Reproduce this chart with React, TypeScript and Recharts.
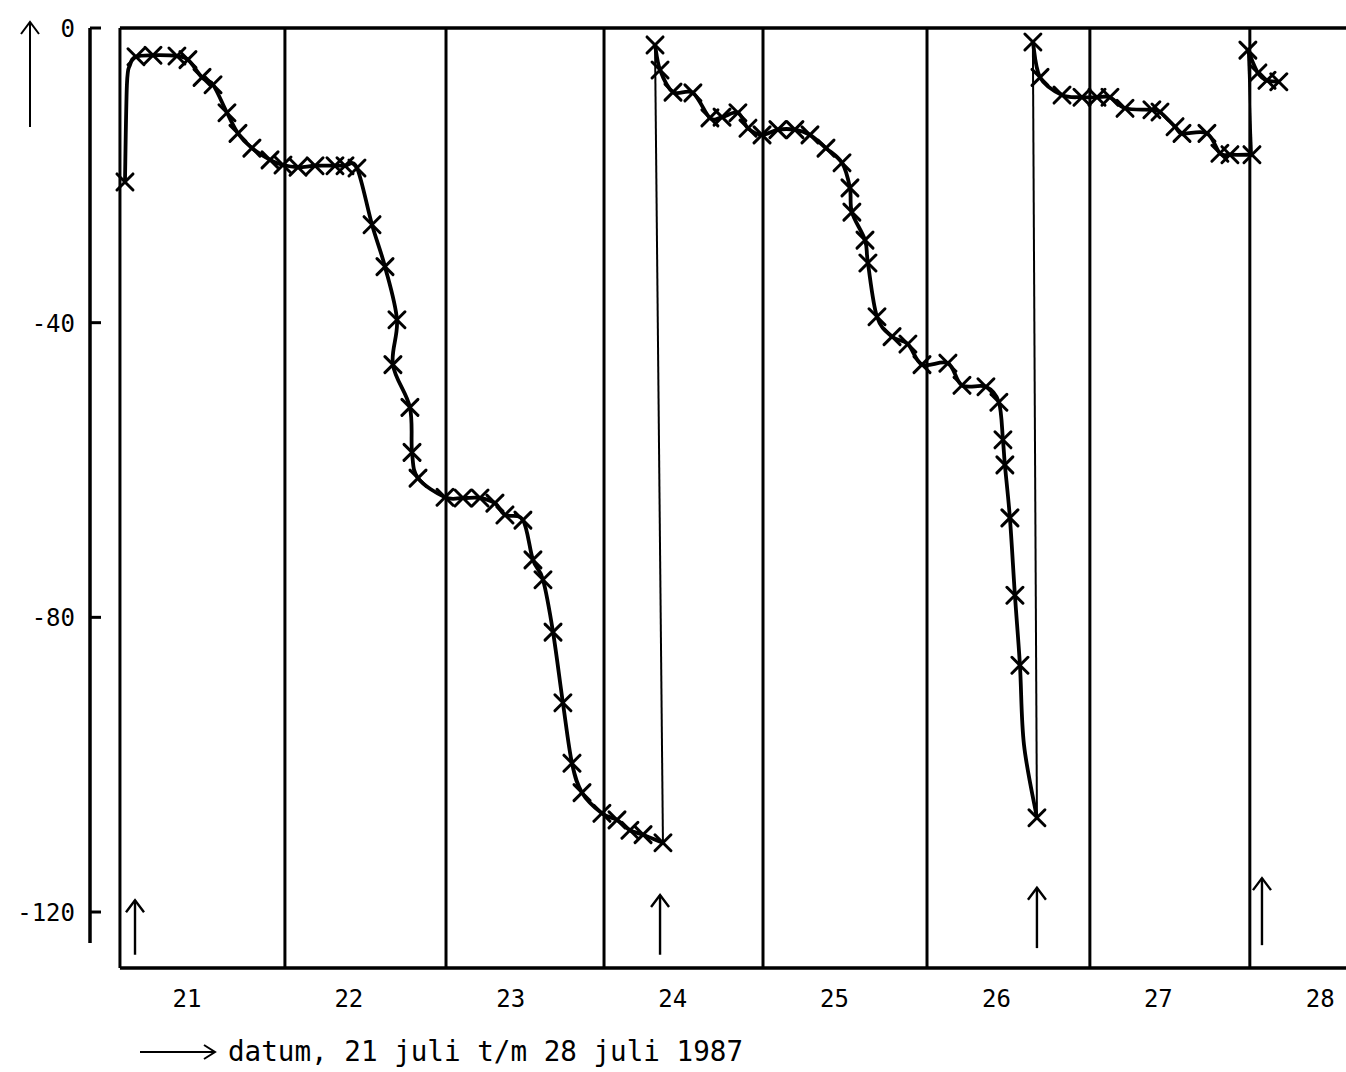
import React from "react";
import {
  ComposedChart,
  Line,
  XAxis,
  YAxis,
  ReferenceLine,
  Scatter,
  Label,
} from "recharts";

// Measured level per run, [day, value] (a trailing 1 = curve point without a cross)
const run1: number[][] = [
  [20.617, -20.9], [20.629, -7.7, 1], [20.648, -5.0, 1], [20.685, -3.9], [20.79, -3.7],
  [20.938, -3.8], [21.006, -4.3], [21.093, -6.7], [21.161, -7.7], [21.247, -11.5],
  [21.315, -14.3], [21.401, -16.3], [21.513, -17.9], [21.593, -18.6], [21.686, -18.9],
  [21.791, -18.7], [21.914, -18.7], [21.976, -18.7], [22.05, -19.0], [22.143, -26.7],
  [22.223, -32.4], [22.297, -39.6], [22.272, -45.7], [22.377, -51.5], [22.39, -57.6],
  [22.427, -61.1], [22.594, -63.7], [22.705, -63.8], [22.81, -63.8], [22.902, -64.5],
  [22.964, -66.1], [23.075, -66.8], [23.137, -72.2], [23.199, -74.9], [23.261, -82.0],
  [23.322, -91.6], [23.378, -99.8], [23.44, -103.8], [23.563, -106.6], [23.656, -107.5],
  [23.736, -108.9], [23.817, -109.5], [23.94, -110.6],
];
const run2: number[][] = [
  [23.891, -2.3], [23.922, -5.7], [24.002, -8.7], [24.125, -8.8], [24.23, -12.2],
  [24.305, -12.1], [24.403, -11.5], [24.465, -13.6], [24.552, -14.5], [24.65, -13.8],
  [24.755, -13.8], [24.848, -14.5], [24.947, -16.3], [25.046, -18.3], [25.095, -21.7],
  [25.107, -25.0], [25.188, -28.8], [25.206, -31.9], [25.262, -39.2], [25.355, -41.9],
  [25.453, -42.9], [25.54, -45.7], [25.7, -45.5], [25.787, -48.5], [25.935, -48.7],
  [26.015, -50.8], [26.04, -55.9], [26.052, -59.3], [26.083, -66.5], [26.114, -77.0],
  [26.145, -86.5], [26.17, -97.3, 1], [26.25, -107.2],
];
const run3: number[][] = [
  [26.225, -1.9], [26.269, -6.7], [26.405, -9.1], [26.528, -9.4], [26.621, -9.4],
  [26.701, -9.4], [26.794, -10.9], [26.96, -11.1], [27.01, -11.4], [27.103, -13.4],
  [27.146, -14.3], [27.3, -14.3], [27.38, -17.0], [27.442, -17.2], [27.578, -17.2],
];
const run4: number[][] = [
  [27.553, -3.0], [27.615, -6.1], [27.671, -7.1], [27.744, -7.3],
];

// Day boundaries drawn as vertical rules
const dayRules = [20.586, 21.605, 22.6, 23.576, 24.558, 25.571, 26.577, 27.565];

// Refill moments (arrows at the bottom): day, arrow tip, arrow foot
const refillDays = [20.679, 23.922, 26.25, 27.64];
const refillTips = [-118.4, -117.7, -116.7, -115.4];
const refillFeet = [-125.8, -125.8, -124.9, -124.5];

const dayTicks = [21, 22, 23, 24, 25, 26, 27, 28];
const dayLabels = ["21", "22", "23", "24", "25", "26", "27", "28"];
const valueTicks = [0, -40, -80, -120];
const valueLabels = ["0", "-40", "-80", "-120"];
const captionText = "datum, 21 juli t/m 28 juli 1987";

const X_MIN = 20.401;
const X_MAX = 28.159;
const Y_MIN = -127.6;
const Y_MAX = 0;
const AXIS_FOOT = -124.2;

const FONT = "'DejaVu Sans Mono', 'Liberation Mono', monospace";
const INK = "#000";

const toPts = (rows: number[][]) =>
  rows.map(([x, y, bare]) => ({ x, y, bare: bare === 1 }));

const runs = [run1, run2, run3, run4].map(toPts);
const refills = refillDays.map((x, i) => ({ x, y: refillTips[i], foot: refillFeet[i] }));

// Smooth pen-plotter style curve through every point (uniform Catmull-Rom)
const penCurve = (context: any) => {
  let pts: [number, number][] = [];
  return {
    areaStart() {},
    areaEnd() {},
    lineStart() {
      pts = [];
    },
    lineEnd() {
      if (!pts.length) return;
      context.moveTo(pts[0][0], pts[0][1]);
      const k = 1 / 6;
      for (let i = 0; i < pts.length - 1; i++) {
        const p0 = pts[Math.max(0, i - 1)];
        const p1 = pts[i];
        const p2 = pts[i + 1];
        const p3 = pts[Math.min(pts.length - 1, i + 2)];
        context.bezierCurveTo(
          p1[0] + (p2[0] - p0[0]) * k,
          p1[1] + (p2[1] - p0[1]) * k,
          p2[0] - (p3[0] - p1[0]) * k,
          p2[1] - (p3[1] - p1[1]) * k,
          p2[0],
          p2[1]
        );
      }
    },
    point(x: number, y: number) {
      pts.push([x, y]);
    },
  };
};

const Cross = (props: any) => {
  const { cx, cy, payload, index } = props;
  if (cx == null || cy == null || payload?.bare) return <g key={`c${index}`} />;
  const r = 8;
  return (
    <g key={`c${index}`} stroke={INK} strokeWidth={3} strokeLinecap="round">
      <line x1={cx - r} y1={cy - r} x2={cx + r} y2={cy + r} />
      <line x1={cx - r} y1={cy + r} x2={cx + r} y2={cy - r} />
    </g>
  );
};

const ArrowHead = (props: any) => {
  const { cx, cy } = props;
  if (cx == null || cy == null) return <g />;
  return (
    <polyline
      points={`${cx - 9},${cy + 12} ${cx},${cy} ${cx + 9},${cy + 12}`}
      fill="none"
      stroke={INK}
      strokeWidth={2.4}
    />
  );
};

const DayTick = (props: any) => {
  const { x, y, payload } = props;
  const i = dayTicks.indexOf(payload.value);
  return (
    <text x={x} y={y + 39} textAnchor="middle" fontFamily={FONT} fontSize={24} fill={INK}>
      {dayLabels[i]}
    </text>
  );
};

const ValueTick = (props: any) => {
  const { x, y, payload } = props;
  const i = valueTicks.indexOf(payload.value);
  return (
    <g>
      <line x1={x} y1={y} x2={x + 11} y2={y} stroke={INK} strokeWidth={3} />
      <text x={x - 15} y={y + 9} textAnchor="end" fontFamily={FONT} fontSize={24} fill={INK}>
        {valueLabels[i]}
      </text>
    </g>
  );
};

// Upward arrow left of the value axis
const ValueArrow = (props: any) => {
  const vb = props.viewBox || {};
  const x = vb.x + 30;
  const top = vb.y - 6;
  return (
    <g stroke={INK} strokeWidth={2} fill="none">
      <line x1={x} y1={top} x2={x} y2={top + 105} />
      <polyline points={`${x - 9},${top + 12} ${x},${top} ${x + 9},${top + 12}`} />
    </g>
  );
};

const Caption = (props: any) => {
  const vb = props.viewBox || {};
  const x0 = vb.x + 50;
  const y0 = vb.y + 84;
  return (
    <g>
      <line x1={x0} y1={y0} x2={x0 + 74} y2={y0} stroke={INK} strokeWidth={2} />
      <polyline
        points={`${x0 + 64},${y0 - 7} ${x0 + 75},${y0} ${x0 + 64},${y0 + 7}`}
        fill="none"
        stroke={INK}
        strokeWidth={2}
      />
      <text x={x0 + 88} y={y0 + 9} fontFamily={FONT} fontSize={27.6} fill={INK}>
        {captionText}
      </text>
    </g>
  );
};

export default function App() {
  return (
    <div style={{ width: 1346, height: 1072, background: "#fff" }}>
      <style>{"html,body{margin:0;padding:0;overflow:hidden;}"}</style>
      <ComposedChart
        width={1346}
        height={1072}
        margin={{ top: 28, right: 0, bottom: 0, left: 0 }}
      >
        <XAxis
          type="number"
          dataKey="x"
          domain={[X_MIN, X_MAX]}
          allowDataOverflow
          ticks={dayTicks}
          tick={<DayTick />}
          tickLine={false}
          axisLine={false}
          tickSize={0}
          tickMargin={0}
          height={104}
          interval={0}
          label={<Label content={<Caption />} />}
        />
        <YAxis
          type="number"
          dataKey="y"
          domain={[Y_MIN, Y_MAX]}
          allowDataOverflow
          ticks={valueTicks}
          tick={<ValueTick />}
          tickLine={false}
          axisLine={false}
          tickSize={0}
          tickMargin={0}
          width={90}
          interval={0}
          label={<Label content={<ValueArrow />} />}
        />

        {dayRules.map((d) => (
          <ReferenceLine key={`r${d}`} x={d} stroke={INK} strokeWidth={3} ifOverflow="visible" />
        ))}
        <ReferenceLine
          segment={[{ x: dayRules[0], y: Y_MAX }, { x: X_MAX, y: Y_MAX }]}
          stroke={INK}
          strokeWidth={3.5}
          ifOverflow="visible"
        />
        <ReferenceLine
          segment={[{ x: dayRules[0], y: Y_MIN }, { x: X_MAX, y: Y_MIN }]}
          stroke={INK}
          strokeWidth={3.5}
          ifOverflow="visible"
        />
        <ReferenceLine
          segment={[{ x: X_MIN, y: Y_MAX }, { x: X_MIN, y: AXIS_FOOT }]}
          stroke={INK}
          strokeWidth={3.5}
          ifOverflow="visible"
        />

        {/* thin drops where the level was reset between runs */}
        {runs.slice(1).map((r, i) => (
          <ReferenceLine
            key={`drop${i}`}
            segment={[
              { x: r[0].x, y: r[0].y },
              { x: runs[i][runs[i].length - 1].x, y: runs[i][runs[i].length - 1].y },
            ]}
            stroke={INK}
            strokeWidth={2}
            ifOverflow="visible"
          />
        ))}

        {/* refill arrows */}
        {refills.map((a, i) => (
          <ReferenceLine
            key={`arr${i}`}
            segment={[{ x: a.x, y: a.y }, { x: a.x, y: a.foot }]}
            stroke={INK}
            strokeWidth={2.4}
            ifOverflow="visible"
          />
        ))}
        <Scatter data={refills} dataKey="y" shape={<ArrowHead />} isAnimationActive={false} />

        {runs.map((r, i) => (
          <Line
            key={`run${i}`}
            data={r}
            dataKey="y"
            type={penCurve as any}
            stroke={INK}
            strokeWidth={3.8}
            dot={Cross}
            activeDot={false}
            isAnimationActive={false}
          />
        ))}
      </ComposedChart>
    </div>
  );
}
